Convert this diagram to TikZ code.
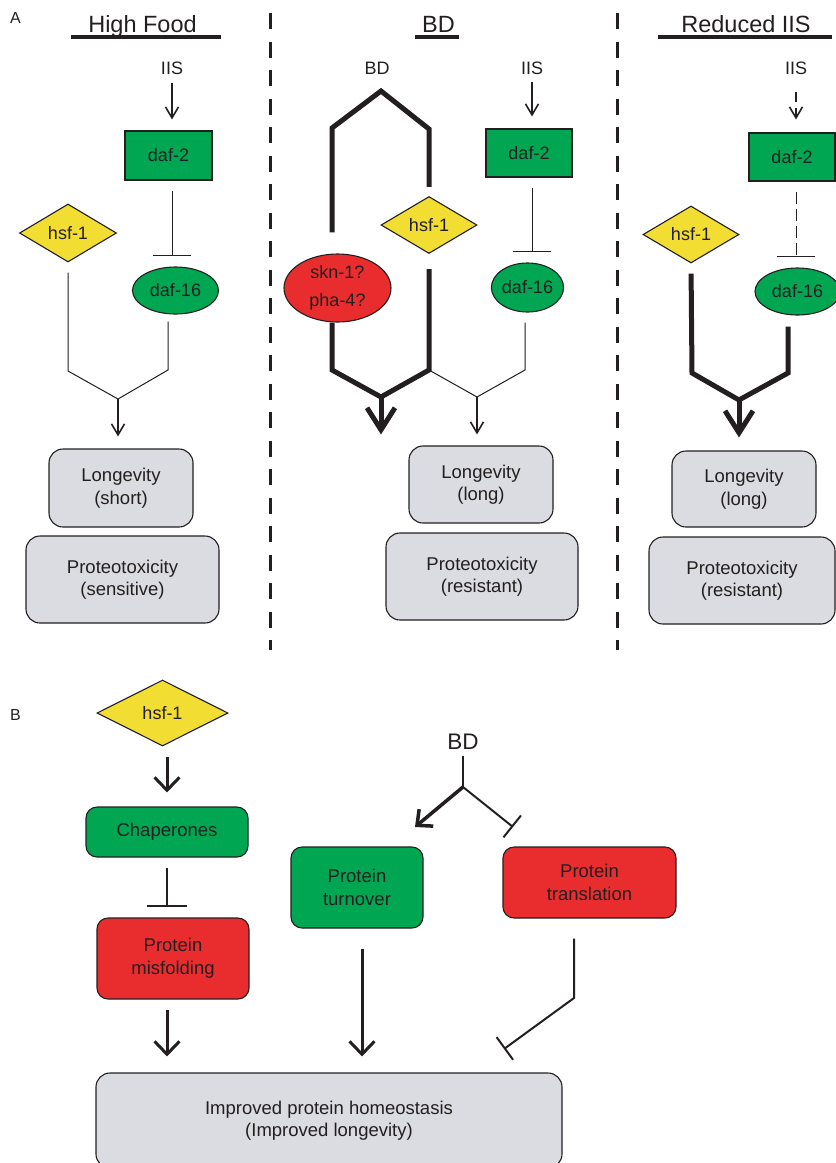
\documentclass[tikz,border=0pt]{standalone}
\usepackage{fontspec}
\setmainfont{Liberation Sans}
\usetikzlibrary{shapes.geometric,arrows.meta}

\definecolor{ink}{RGB}{35,31,32}
\definecolor{genegreen}{RGB}{0,166,81}
\definecolor{genered}{RGB}{233,45,46}
\definecolor{geneyellow}{RGB}{242,221,50}
\definecolor{outgrey}{RGB}{219,220,225}

\tikzset{
	gene/.style={draw=ink,line width=1.1pt,text=ink,inner sep=0pt,font=\fontsize{18}{22}\selectfont},
	dafbox/.style={gene,rectangle,fill=genegreen,minimum width=86,minimum height=48},
	dafoval/.style={gene,ellipse,fill=genegreen,minimum width=86,minimum height=47},
	hsfdiam/.style={gene,diamond,fill=geneyellow,minimum width=96,minimum height=57},
	redoval/.style={gene,ellipse,fill=genered,align=center,font=\fontsize{18}{28}\selectfont},
	outbox/.style={gene,rectangle,rounded corners=14pt,fill=outgrey,align=center,font=\fontsize{18.5}{22.5}\selectfont},
	procbox/.style={gene,rectangle,rounded corners=11pt,align=center,font=\fontsize{18.5}{23}\selectfont},
	lbl/.style={text=ink,inner sep=0pt,anchor=base,font=\fontsize{18}{22}\selectfont},
	coltitle/.style={lbl,font=\fontsize{23.5}{28}\selectfont},
	headrule/.style={draw=ink,line width=4pt},
	colsep/.style={draw=ink,line width=3pt,dash pattern=on 16pt off 12.5pt},
	wire/.style={draw=ink,line width=1pt},
	heavy/.style={draw=ink,line width=5pt},
	act/.style={wire,line width=1.6pt,-{Straight Barb[length=11pt,width=13pt]}},
	bigact/.style={heavy,-{Straight Barb[length=22pt,width=28pt]}},
	inh/.style={wire,-{Bar[width=38pt]}},
	actB/.style={wire,line width=3pt,-{Straight Barb[length=13pt,width=25pt]}},
	inhB/.style={wire,line width=2pt,-{Bar[width=#1]}},
	inhB/.default=40pt
}

\begin{document}
\begin{tikzpicture}[x=1pt,y=-1pt]
	\useasboundingbox (0,0) rectangle (836,1163);
	\clip (0,0) rectangle (836,1163);
	% panel A, titles and separators
	\node[lbl,font=\fontsize{16}{19}\selectfont] (labA) at (15.5,23) {A};
	\node[coltitle] (titA) at (142.5,32) {High Food};
	\node[coltitle] (titB) at (438.5,32) {BD};
	\node[coltitle] (titC) at (746,32) {Reduced IIS};
	\draw[headrule] (71,37) -- (221,37);
	\draw[headrule] (415,37) -- (459,37);
	\draw[headrule] (658,37) -- (832,37);
	\draw[colsep] (270,13) -- (270,650);
	\draw[colsep] (617,13) -- (617,650);
	% high food
	\node[lbl] (iisA) at (172,74) {IIS};
	\node[dafbox,minimum width=87,minimum height=49] (dafA) at (168.5,155.5) {daf-2};
	\node[dafoval] (dafsA) at (175.5,290.5) {daf-16};
	\node[hsfdiam,minimum width=97,minimum height=58] (hsfA) at (68,233) {hsf-1};
	\node[outbox,minimum width=144,minimum height=78] (lonA) at (121,488) {Longevity\\(short)};
	\node[outbox,minimum width=193,minimum height=87] (proA) at (122.5,579.5) {Proteotoxicity\\(sensitive)};
	\draw[act,shorten <=9pt,shorten >=11pt] (iisA.south) -- (iisA.south |- dafA.north);
	\draw[inh,shorten <=10pt,shorten >=10pt] (iisA |- dafA.south) -- (iisA |- dafsA.north);
	\coordinate (mA) at (118,399);
	\coordinate (kA1) at (68,371);
	\coordinate (kA2) at (168,370);
	\draw[wire,shorten <=10pt,shorten >=7pt] (hsfA.south) -- (kA1) -- (mA) -- (kA2) -- (kA2 |- dafsA.south);
	\draw[act,shorten >=12pt] (mA) -- (mA |- lonA.north);
	% BD
	\node[lbl] (bdA) at (377,74) {BD};
	\node[lbl] (iisB) at (532,74) {IIS};
	\node[dafbox] (dafB) at (529,153) {daf-2};
	\node[dafoval,minimum width=70,minimum height=49] (dafsB) at (527.5,287.5) {daf-16};
	\node[hsfdiam] (hsfB) at (429,225) {hsf-1};
	\node[redoval,minimum width=107,minimum height=68] (sknB) at (337.5,288) {skn-1?\\pha-4?};
	\node[outbox,minimum width=144,minimum height=77] (lonB) at (481,484.5) {Longevity\\(long)};
	\node[outbox,minimum width=192,minimum height=87] (proB) at (482,576.5) {Proteotoxicity\\(resistant)};
	\coordinate (tB) at (381,91);
	\coordinate (lB) at (332,128);
	\coordinate (rB) at (429,129);
	\draw[heavy,shorten <=21pt,shorten >=9pt] (lB |- sknB.north) -- (lB) -- (tB) -- (rB) -- (hsfB.north);
	\coordinate (mB) at (381,397);
	\coordinate (kB1) at (332,370);
	\coordinate (kB2) at (429,370);
	\draw[heavy,shorten >=15pt] (kB1 |- sknB.south) -- (kB1) -- (mB) -- (kB2) -- (hsfB.south);
	\draw[bigact,shorten >=11pt] (mB) -- (mB |- lonB.north);
	\coordinate (nB) at (477,397);
	\coordinate (kB3) at (525,370);
	\draw[wire,shorten >=10pt] (kB2) -- (nB) -- (kB3) -- (kB3 |- dafsB.south);
	\draw[act,shorten >=11pt] (nB) -- (nB |- lonB.north);
	\draw[act,shorten <=8pt,shorten >=12pt] (iisB.south) -- (iisB.south |- dafB.north);
	\draw[inh,shorten <=10pt,shorten >=10pt] (iisB |- dafB.south) -- (iisB |- dafsB.north);
	% reduced IIS
	\node[lbl] (iisC) at (796,74) {IIS};
	\node[dafbox] (dafC) at (792,157) {daf-2};
	\node[dafoval,minimum width=85] (dafsC) at (797.5,291.5) {daf-16};
	\node[hsfdiam] (hsfC) at (691,234.5) {hsf-1};
	\node[outbox,minimum width=144,minimum height=76] (lonC) at (744,489) {Longevity\\(long)};
	\node[outbox,minimum width=186,minimum height=87] (proC) at (742,580.5) {Proteotoxicity\\(resistant)};
	\draw[act,dash pattern=on 10pt off 6pt,shorten <=18pt,shorten >=13pt] (iisC.south) -- (iisC.south |- dafC.north);
	\draw[inh,dash pattern=on 12pt off 5pt,shorten <=10pt,shorten >=10pt] (iisC |- dafC.south) -- (iisC |- dafsC.north);
	\coordinate (mC) at (739,400);
	\coordinate (kC1) at (692,373);
	\coordinate (kC2) at (788,373);
	\draw[heavy,shorten <=10pt,shorten >=11pt] (hsfC.south) -- (kC1) -- (mC) -- (kC2) -- (kC2 |- dafsC.south);
	\draw[bigact,shorten >=13pt] (mC) -- (mC |- lonC.north);
	% panel B
	\node[lbl,font=\fontsize{16}{19}\selectfont] (labB) at (15.5,720) {B};
	\node[hsfdiam,minimum width=131,minimum height=66] (hsfD) at (162.5,713) {hsf-1};
	\node[procbox,fill=genegreen,minimum width=162,minimum height=50] (chapD) at (167,832) {Chaperones};
	\node[procbox,fill=genered,minimum width=152,minimum height=81] (misD) at (173,958.5) {Protein\\misfolding};
	\node[procbox,fill=genegreen,minimum width=132,minimum height=81] (turnD) at (357,887.5) {Protein\\turnover};
	\node[procbox,fill=genered,minimum width=173,minimum height=71] (transD) at (589.5,882.5) {Protein\\translation};
	\node[outbox,minimum width=466,minimum height=95] (imprD) at (329,1120.5) {Improved protein homeostasis\\(Improved longevity)};
	\node[lbl,font=\fontsize{22.5}{27}\selectfont] (bdD) at (463,749) {BD};
	\draw[actB,shorten <=10pt,shorten >=14pt] (chapD.north |- hsfD.south) -- (chapD.north);
	\draw[inhB,shorten <=10pt,shorten >=10pt] (chapD.south) -- (chapD.south |- misD.north);
	\draw[actB,shorten <=10pt,shorten >=16pt] (chapD |- misD.south) -- (chapD |- imprD.north);
	\draw[actB,shorten <=20pt,shorten >=16pt] ([xshift=5pt]turnD.south) -- ([xshift=5pt]turnD.south |- imprD.north);
	\coordinate (sD) at (463,787);
	\coordinate (aD) at (415,827);
	\coordinate (bD) at (513,827);
	\draw[wire,line width=2pt,shorten <=7pt] (bdD.south) -- (sD);
	\draw[actB,line width=3.5pt,-{Straight Barb[length=12pt,width=22pt]}] (sD) -- (aD);
	\draw[inhB=28pt] (sD) -- (bD);
	\coordinate (kD) at (574,998);
	\coordinate (cD) at (504,1049);
	\draw[inhB=28pt,shorten <=20pt] (kD |- transD.south) -- (kD) -- (cD);
\end{tikzpicture}
\end{document}
